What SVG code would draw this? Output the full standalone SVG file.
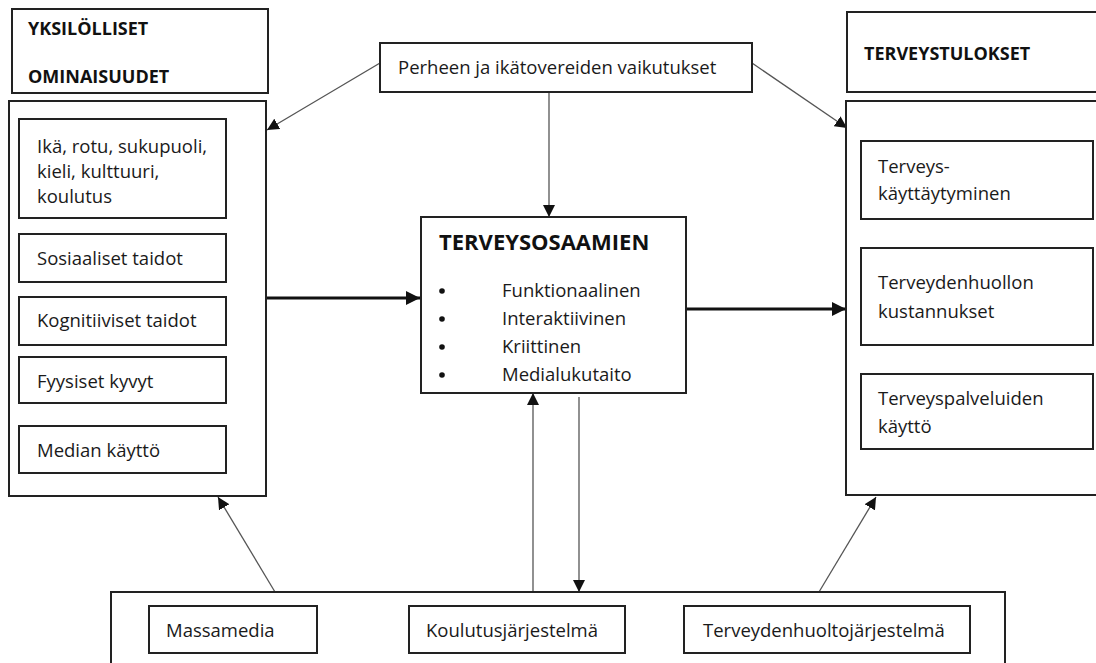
<svg xmlns="http://www.w3.org/2000/svg" width="1096" height="663" viewBox="0 0 1096 663">
<defs>
<style>
.box{fill:#fff;stroke:#222;stroke-width:2}
.t{font-family:"Open Sans","Liberation Sans",sans-serif;font-size:18.5px;fill:#1a1a1a}
.b{font-family:"Open Sans","Liberation Sans",sans-serif;font-size:18px;font-weight:bold;fill:#111}
.thin{stroke:#555;stroke-width:1.3;fill:none}
.thick{stroke:#111;stroke-width:3;fill:none}
</style>
<marker id="ah" markerUnits="userSpaceOnUse" viewBox="0 0 12 12" refX="12" refY="6" markerWidth="12" markerHeight="12" orient="auto">
<path d="M0,0 L12,6 L0,12 Z" fill="#111"/>
</marker>
<marker id="ahT" markerUnits="userSpaceOnUse" viewBox="0 0 14 14" refX="14" refY="7" markerWidth="14" markerHeight="14" orient="auto">
<path d="M0,0 L14,7 L0,14 Z" fill="#111"/>
</marker>
</defs>
<rect width="1096" height="663" fill="#fff"/>

<g id="connectors">
<line class="thin" x1="380" y1="63" x2="267" y2="130" marker-end="url(#ah)"/>
<line class="thin" x1="752" y1="63" x2="847" y2="128" marker-end="url(#ah)"/>
<line class="thin" x1="549" y1="92" x2="549" y2="217" marker-end="url(#ah)"/>
<line class="thick" x1="266" y1="298" x2="420" y2="298" marker-end="url(#ahT)"/>
<line class="thick" x1="686" y1="309" x2="846" y2="309" marker-end="url(#ahT)"/>
<line class="thin" x1="533" y1="592" x2="533" y2="393" marker-end="url(#ah)"/>
<line class="thin" x1="579" y1="397" x2="579" y2="592" marker-end="url(#ah)"/>
<line class="thin" x1="275" y1="592" x2="218" y2="497" marker-end="url(#ah)"/>
<line class="thin" x1="819" y1="592" x2="876" y2="497" marker-end="url(#ah)"/>
</g>

<g id="yksilolliset-title">
<rect class="box" x="12" y="9" width="256" height="84"/>
<text class="b" x="28" y="35">YKSILÖLLISET</text>
<text class="b" x="28" y="83">OMINAISUUDET</text>
</g>

<g id="yksilolliset">
<rect class="box" x="9" y="101" width="257" height="395"/>
<g id="ika">
<rect class="box" x="19" y="119" width="207" height="99"/>
<text class="t" x="37" y="153">Ikä, rotu, sukupuoli,</text>
<text class="t" x="37" y="178">kieli, kulttuuri,</text>
<text class="t" x="37" y="203">koulutus</text>
</g>
<g id="sosiaaliset">
<rect class="box" x="19" y="234" width="207" height="48"/>
<text class="t" x="37" y="265">Sosiaaliset taidot</text>
</g>
<g id="kognitiiviset">
<rect class="box" x="19" y="297" width="207" height="48"/>
<text class="t" x="37" y="327">Kognitiiviset taidot</text>
</g>
<g id="fyysiset">
<rect class="box" x="19" y="357" width="207" height="46"/>
<text class="t" x="37" y="388">Fyysiset kyvyt</text>
</g>
<g id="median">
<rect class="box" x="19" y="426" width="207" height="47"/>
<text class="t" x="37" y="457">Median käyttö</text>
</g>
</g>

<g id="perhe">
<rect class="box" x="380" y="43" width="372" height="49"/>
<text class="t" x="398" y="74">Perheen ja ikätovereiden vaikutukset</text>
</g>

<g id="terveysosaamien">
<rect class="box" x="421" y="217" width="265" height="176"/>
<text class="b" x="439" y="250" style="font-size:22px">TERVEYSOSAAMIEN</text>
<g fill="#111">
<circle cx="442" cy="291" r="2.8"/>
<circle cx="442" cy="319" r="2.8"/>
<circle cx="442" cy="347" r="2.8"/>
<circle cx="442" cy="375" r="2.8"/>
</g>
<text class="t" x="502" y="297">Funktionaalinen</text>
<text class="t" x="502" y="325">Interaktiivinen</text>
<text class="t" x="502" y="353">Kriittinen</text>
<text class="t" x="502" y="381">Medialukutaito</text>
</g>

<g id="terveystulokset-title">
<rect class="box" x="847" y="12" width="260" height="80"/>
<text class="b" x="864" y="60">TERVEYSTULOKSET</text>
</g>

<g id="terveystulokset">
<rect class="box" x="846" y="101" width="260" height="394"/>
<g id="kayttaytyminen">
<rect class="box" x="861" y="141" width="232" height="78"/>
<text class="t" x="878" y="173">Terveys-</text>
<text class="t" x="878" y="200">käyttäytyminen</text>
</g>
<g id="kustannukset">
<rect class="box" x="861" y="248" width="232" height="97"/>
<text class="t" x="878" y="289">Terveydenhuollon</text>
<text class="t" x="878" y="318">kustannukset</text>
</g>
<g id="palvelut">
<rect class="box" x="861" y="374" width="232" height="75"/>
<text class="t" x="878" y="405">Terveyspalveluiden</text>
<text class="t" x="878" y="433">käyttö</text>
</g>
</g>

<g id="ymparisto">
<rect class="box" x="111" y="592" width="894" height="100"/>
<g id="massamedia">
<rect class="box" x="149" y="606" width="168" height="47"/>
<text class="t" x="166" y="637">Massamedia</text>
</g>
<g id="koulutusjarjestelma">
<rect class="box" x="409" y="606" width="216" height="47"/>
<text class="t" x="426" y="637">Koulutusjärjestelmä</text>
</g>
<g id="terveydenhuoltojarjestelma">
<rect class="box" x="684" y="606" width="286" height="47"/>
<text class="t" x="703" y="637">Terveydenhuoltojärjestelmä</text>
</g>
</g>
</svg>
